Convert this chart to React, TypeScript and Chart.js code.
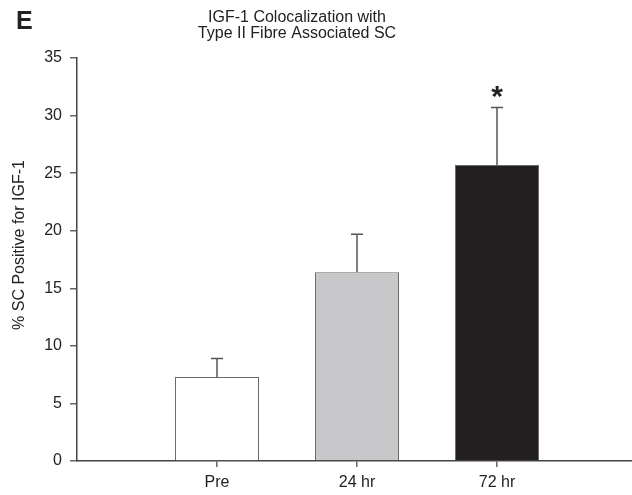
import React, { useEffect, useRef } from 'react';
import { Chart, registerables } from 'chart.js';

Chart.register(...registerables);

const categories = ['Pre', '24 hr', '72 hr'];
const means = [7.3, 16.4, 25.7];
const errors = [1.6, 3.3, 5.0];
const fills = ['#ffffff', '#c8c8ca', '#231f20'];
const significant = [false, false, true];
const yMin = 0;
const yMax = 35;
const yStep = 5;
const titleLines = ['IGF-1 Colocalization with', 'Type II Fibre Associated SC'];
const yTitle = '% SC Positive for IGF-1';
const panelLabel = 'E';

const FONT = "'Liberation Sans', Arial, Helvetica, sans-serif";
const TEXT = '#222222';
const AXIS = '#444444';

const labels = ['', ...categories, ''];
const data = [null, ...means, null];
const bg = ['rgba(0,0,0,0)', ...fills, 'rgba(0,0,0,0)'];

const extendX = {
  id: 'extendX',
  afterLayout(chart: any) {
    const xs = chart.scales.x;
    xs.right += 5;
    xs.width += 5;
    xs.configure();
  },
};

const overlay = {
  id: 'overlay',
  afterDatasetsDraw(chart: any) {
    const { ctx, scales } = chart;
    const xs = scales.x;
    const ys = scales.y;
    ctx.save();
    ctx.strokeStyle = '#555555';
    ctx.lineWidth = 1.5;
    means.forEach((m, i) => {
      const x = xs.getPixelForValue(i + 1);
      const y0 = ys.getPixelForValue(m);
      const y1 = ys.getPixelForValue(m + errors[i]);
      ctx.beginPath();
      ctx.moveTo(x, y0);
      ctx.lineTo(x, y1);
      ctx.moveTo(x - 6, y1);
      ctx.lineTo(x + 6, y1);
      ctx.stroke();
      if (significant[i]) {
        ctx.fillStyle = TEXT;
        ctx.font = `bold 30px ${FONT}`;
        ctx.textAlign = 'center';
        ctx.textBaseline = 'alphabetic';
        ctx.fillText('*', x, y1 - 2);
      }
    });
    ctx.restore();
  },
  afterDraw(chart: any) {
    const { ctx } = chart;
    ctx.save();
    ctx.fillStyle = TEXT;
    ctx.font = `16px ${FONT}`;
    ctx.textAlign = 'center';
    ctx.textBaseline = 'alphabetic';
    ctx.fillText(titleLines[0], 297, 22);
    ctx.fillText(titleLines[1], 297, 38);
    ctx.font = `bold 25px ${FONT}`;
    ctx.textAlign = 'left';
    ctx.fillText(panelLabel, 16, 29);
    ctx.font = `16px ${FONT}`;
    ctx.translate(24, 245);
    ctx.rotate(-Math.PI / 2);
    ctx.textAlign = 'center';
    ctx.textBaseline = 'alphabetic';
    ctx.fillText(yTitle, 0, 0);
    ctx.restore();
  },
};

export default function App() {
  const ref = useRef<HTMLCanvasElement>(null);
  useEffect(() => {
    if (!ref.current) return;
    Chart.defaults.font.family = FONT;
    const chart = new Chart(ref.current, {
      type: 'bar',
      data: {
        labels,
        datasets: [
          {
            data,
            backgroundColor: bg,
            borderColor: '#6b6b6b',
            borderWidth: 1,
            categoryPercentage: 1,
            barPercentage: 0.6,
          },
        ],
      },
      options: {
        animation: false,
        responsive: false,
        devicePixelRatio: 1,
        layout: { padding: { top: 58, left: 0, right: 0, bottom: 0 } },
        plugins: { legend: { display: false }, tooltip: { enabled: false }, title: { display: false } },
        scales: {
          x: {
            type: 'category',
            offset: false,
            grid: {
              offset: false,
              drawOnChartArea: false,
              drawTicks: true,
              tickLength: 6,
              lineWidth: 1.5,
              color: (c: any) => (c.index === 0 || c.index === labels.length - 1 ? 'rgba(0,0,0,0)' : '#666666'),
            },
            border: { color: AXIS, width: 1.5 },
            ticks: { autoSkip: false, maxRotation: 0, color: TEXT, font: { size: 16 }, padding: 6 },
            afterFit: (s: any) => {
              s.height = 34;
              s.paddingLeft = 0;
              s.paddingRight = 0;
            },
          },
          y: {
            min: yMin,
            max: yMax,
            grid: { drawOnChartArea: false, drawTicks: true, tickLength: 7, color: '#666666', lineWidth: 1.5 },
            border: { color: AXIS, width: 1.5 },
            ticks: { stepSize: yStep, color: TEXT, font: { size: 16 }, padding: 8 },
            afterFit: (s: any) => {
              s.width = 77;
            },
          },
        },
      },
      plugins: [extendX, overlay],
    });
    return () => chart.destroy();
  }, []);
  return (
    <div style={{ position: 'absolute', left: 0, top: 0, width: 632, height: 495, background: '#fff' }}>
      <canvas ref={ref} width={632} height={495} style={{ display: 'block' }} />
    </div>
  );
}
